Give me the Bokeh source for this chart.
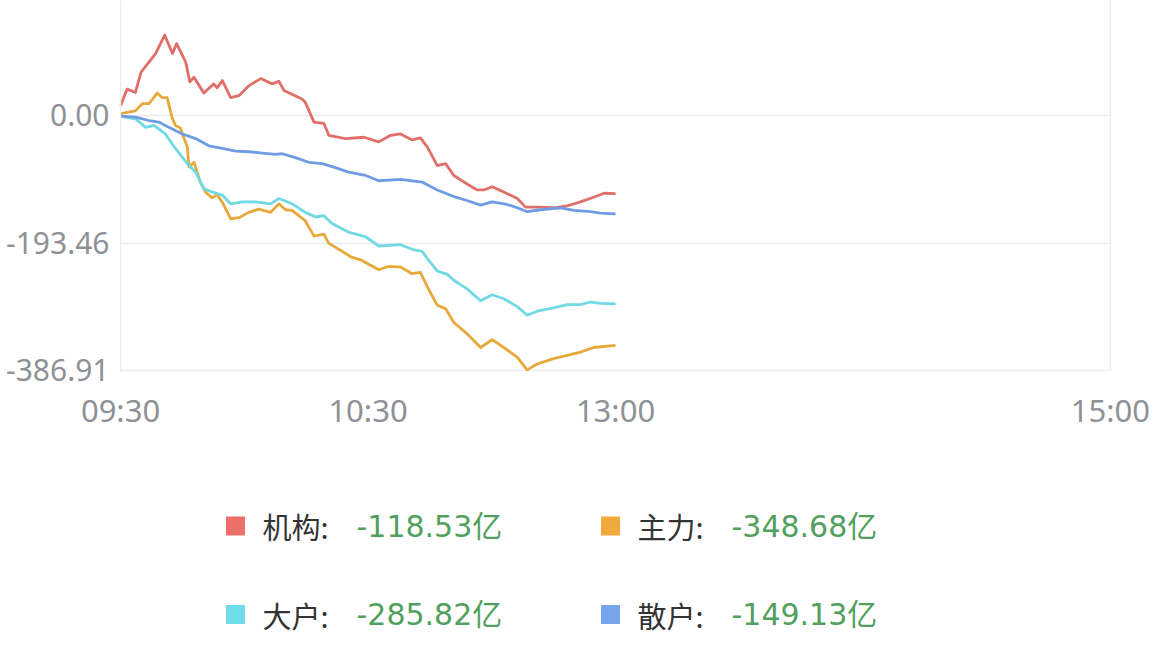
from bokeh.plotting import figure
from bokeh.models import Range1d, FixedTicker, Span
from bokeh.layouts import column
from bokeh.embed import file_html
from bokeh.resources import INLINE
from bokeh.core.properties import value

# ---------------- data ----------------
# minutes since 09:30 (trading minutes; 120 = 11:30/13:00, 240 = 15:00)
t_jigou = [0, 1.6, 3.6, 5, 6.9, 8.5, 10.7, 12.6, 13.6, 15.8, 16.8, 17.8, 20.2, 22.6, 23.4, 24.7,
           26.7, 28.7, 31.1, 34, 36.8, 38.4, 39.6, 44, 44.8, 46.9, 49.3, 50.5, 54.5, 59, 62.6,
           65.5, 67.9, 70.7, 72.7, 74.4, 76.8, 78.8, 80.8, 84, 86.5, 88.1, 90.1, 92.9, 96.2,
           98.2, 101, 105, 108.3, 111.5, 114.7, 117.2, 120]
v_jigou = [15, 40, 35, 66, 81, 94, 122, 94, 109, 81, 51, 58, 34, 48, 42, 53,
           27, 30, 45, 56, 48, 52, 38, 25, 20, -10, -12, -30, -35, -33, -40,
           -30, -28, -37, -34, -48, -76, -73, -91, -104, -113, -113, -108, -116, -126,
           -139, -139, -140, -137, -131, -124, -118, -118.53]

t_zhuli = [0, 3.6, 5.3, 6.9, 8.9, 10.1, 11.3, 12.5, 13.3, 14.5, 16.2, 16.6, 17.8, 19.4, 20.6,
           22.2, 23.4, 24.7, 26.7, 28.7, 31.1, 33.5, 36.4, 38.4, 40, 41.6, 44.8, 46.9, 49.3,
           50.5, 53.7, 56, 58.2, 62.6, 65, 67.9, 70.7, 72.7, 74.4, 76.8, 78.8, 80.8, 84, 87.3,
           90.1, 92.9, 96.2, 98.6, 101, 105, 108.3, 111.5, 114.7, 120]
v_zhuli = [3, 7, 18, 18, 34, 27, 27, -3, -15, -19, -48, -78, -71, -102, -116,
           -125, -120, -132, -157, -155, -147, -142, -147, -134, -143, -144, -160, -183, -180,
           -194, -206, -215, -219, -234, -229, -230, -240, -238, -260, -288, -293, -314, -331, -352,
           -340, -352, -367, -386, -377, -369, -364, -359, -352, -348.68]

t_dahu = [0, 3.6, 6.1, 8.1, 10.9, 13.3, 16.2, 18.2, 20.2, 22.2, 24.7, 26.7, 29.5, 32.7, 36.4,
          38.4, 41.6, 44.8, 47.3, 49.3, 51.3, 55.3, 59.4, 62.6, 67.9, 70.7, 73.1, 74.4, 76.8,
          79.2, 80.8, 84, 87.3, 90.1, 92.9, 96.2, 98.6, 101, 105, 108.3, 111.5, 113.9, 116.4, 120]
v_dahu = [-1, -5, -18, -15, -28, -50, -73, -86, -111, -116, -121, -134, -131, -131, -134,
          -126, -134, -147, -154, -152, -164, -177, -184, -198, -196, -203, -206, -217, -236,
          -241, -250, -263, -281, -272, -278, -290, -303, -297, -292, -287, -287, -283, -285, -285.82]

t_sanhu = [0, 3.6, 6.9, 9.3, 11.7, 15, 18.2, 21.4, 24.7, 27.9, 31.1, 34.4, 37.6, 39.2, 42.4,
           45.6, 48.9, 52.1, 55.3, 59.4, 62.6, 67.9, 73.1, 76.8, 80.8, 84, 87.3, 90.1, 93.7,
           96.2, 98.6, 101.8, 106.7, 109.9, 113.9, 116.4, 120]
v_sanhu = [-1, -2.5, -7.6, -10, -18, -28, -35, -46, -50, -54, -55, -57, -59, -58, -64,
           -71, -73, -79, -86, -91, -99, -97, -101, -113, -123, -129, -136, -131, -135,
           -140, -146, -143, -140, -144, -146, -148, -149.13]

x_tick_pos = [0, 60, 120, 180, 240]
x_tick_labels = ["09:30", "10:30", "13:00", "", "15:00"]
y_tick_pos = [-386.91, -193.46, 0.0]
y_tick_labels = ["-386.91", "-193.46", "0.00"]

series_names = ["机构", "主力", "大户", "散户"]
series_totals = [-118.53, -348.68, -285.82, -149.13]
series_t = [t_jigou, t_zhuli, t_dahu, t_sanhu]
series_v = [v_jigou, v_zhuli, v_dahu, v_sanhu]

# ---------------- styles ----------------
line_colors = ["#e06f6a", "#e8a93c", "#6fdae3", "#6f9be2"]
legend_colors = ["#ee6e6b", "#f0aa3c", "#6ddde8", "#76a5ee"]
grid_color = "#ebebeb"
axis_text_color = "#8e9196"
name_color = "#333333"
value_color = "#52a05e"

W = 1170
BL, BR = 119, 59          # frame spans page x 119 .. 1111

p = figure(width=W, height=448,
           x_range=Range1d(-0.25, 240.25), y_range=Range1d(-388.43, 174.49),
           output_backend="svg", toolbar_location=None,
           min_border_left=BL, min_border_right=BR, min_border_top=0, min_border_bottom=77)
p.outline_line_color = None
p.background_fill_color = "white"
p.border_fill_color = "white"

p.xaxis.ticker = FixedTicker(ticks=x_tick_pos)
p.xaxis.major_label_overrides = {k: l for k, l in zip(x_tick_pos, x_tick_labels)}
p.yaxis.ticker = FixedTicker(ticks=y_tick_pos)
p.yaxis.major_label_overrides = {k: l for k, l in zip(y_tick_pos, y_tick_labels)}

for ax in (p.xaxis, p.yaxis):
    ax.axis_line_color = None
    ax.major_tick_line_color = None
    ax.minor_tick_line_color = None
    ax.major_tick_out = 0
    ax.major_tick_in = 0
    ax.major_label_text_color = axis_text_color
    ax.major_label_text_font = "Noto Sans"
p.xaxis.major_label_text_font_size = "31px"
p.yaxis.major_label_text_font_size = "30px"
p.xaxis.major_label_standoff = 17
p.yaxis.major_label_standoff = 10

p.xgrid.visible = False
p.ygrid.grid_line_color = grid_color
p.ygrid.grid_line_width = 1.5

p.add_layout(Span(location=0, dimension="height", line_color=grid_color, line_width=1.5))
p.add_layout(Span(location=240, dimension="height", line_color=grid_color, line_width=1.5))

for t, v, c in zip(series_t, series_v, line_colors):
    p.line(t, v, line_color=c, line_width=2.8, line_join="round")

# ---------------- legend ----------------
# legend panel: x in page pixels (frame aligned with the chart frame), y in pixels from bottom
p2 = figure(width=W, height=208, x_range=Range1d(BL, W - BR), y_range=Range1d(0, 208),
            output_backend="svg", toolbar_location=None,
            min_border_left=BL, min_border_right=BR, min_border_top=0, min_border_bottom=0)
p2.axis.visible = False
p2.grid.visible = False
p2.outline_line_color = None
p2.border_fill_color = "white"

col_x = [235, 610]
row_y = [130.5, 42]
sq_x, sq_y, names, vals = [], [], [], []
for i, (n, tot) in enumerate(zip(series_names, series_totals)):
    sq_x.append(col_x[i % 2])
    sq_y.append(row_y[i // 2])
    names.append(n + ":")
    vals.append(f"{tot:.2f}亿")

p2.rect(x=sq_x, y=sq_y, width=19, height=19, fill_color=legend_colors, line_color=None)
p2.text(x=[x + 27 for x in sq_x], y=sq_y, text=names, text_font=value("Noto Sans CJK SC"),
        text_font_size="29px", text_color=name_color, text_baseline="middle", text_align="left")
p2.text(x=[x + 121 for x in sq_x], y=sq_y, text=vals,
        text_font=value("DejaVu Sans, Noto Sans CJK SC"),
        text_font_size="30px", text_color=value_color, text_baseline="middle", text_align="left")

layout = column(p, p2)
open("out.html", "w").write(file_html(layout, INLINE))
